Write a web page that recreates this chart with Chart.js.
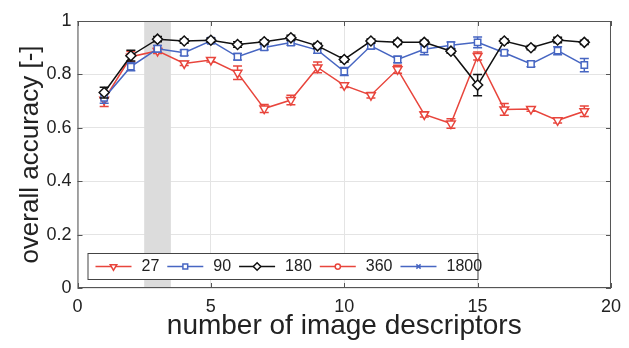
<!DOCTYPE html>
<html>
<head>
<meta charset="utf-8">
<script src="https://cdn.jsdelivr.net/npm/chart.js@4/dist/chart.umd.min.js"></script>
<style>
  html, body { margin: 0; padding: 0; background: #fff; }
  #wrap { width: 629px; height: 348px; }
</style>
</head>
<body>
<div id="wrap"><canvas id="chart" width="629" height="348"></canvas></div>
<script>
var descriptors = [1, 2, 3, 4, 5, 6, 7, 8, 9, 10, 11, 12, 13, 14, 15, 16, 17, 18, 19];
var acc27 = [0.705, 0.866, 0.888, 0.841, 0.854, 0.806, 0.672, 0.704, 0.826, 0.759, 0.722, 0.819, 0.650, 0.616, 0.869, 0.669, 0.670, 0.628, 0.662];
var err27 = [0.025, 0.02, 0.01, 0.008, 0.008, 0.025, 0.015, 0.018, 0.02, 0.008, 0.01, 0.015, 0.01, 0.018, 0.015, 0.022, 0.008, 0.01, 0.02];
var acc90 = [0.712, 0.829, 0.896, 0.881, 0.926, 0.866, 0.901, 0.919, 0.891, 0.811, 0.907, 0.856, 0.894, 0.909, 0.920, 0.881, 0.839, 0.889, 0.835];
var err90 = [0.02, 0.015, 0.012, 0.01, 0.008, 0.012, 0.01, 0.01, 0.012, 0.015, 0.012, 0.012, 0.02, 0.012, 0.02, 0.008, 0.01, 0.015, 0.025];
var acc180 = [0.732, 0.870, 0.932, 0.925, 0.928, 0.912, 0.922, 0.937, 0.907, 0.856, 0.925, 0.920, 0.920, 0.887, 0.760, 0.925, 0.900, 0.929, 0.920];
var err180 = [0.02, 0.02, 0.01, 0.008, 0.008, 0.01, 0.008, 0.01, 0.01, 0.01, 0.008, 0.008, 0.008, 0.008, 0.04, 0.008, 0.008, 0.01, 0.008];
var acc360 = [];
var acc1800 = [];
var seriesLabels = ['27', '90', '180', '360', '1800'];
var xTicks = [0, 5, 10, 15, 20];
var yTicks = [0, 0.2, 0.4, 0.6, 0.8, 1];
var band = [2.5, 3.5];

var RED = '#e8453c', BLUE = '#4766c2', BLACK = '#111111';
var FONT = '"Liberation Sans", Arial, Helvetica, sans-serif';

function pts(ys) {
  return ys.map(function (y, i) { return { x: descriptors[i], y: y }; });
}

function serie(label, ys, errs, color, style, rot, radius, order) {
  return {
    label: label,
    data: pts(ys),
    errorBars: errs,
    borderColor: color,
    borderWidth: 1.5,
    pointStyle: style,
    pointRotation: rot,
    pointRadius: radius,
    pointBorderWidth: 1.5,
    pointBorderColor: color,
    pointBackgroundColor: '#fff',
    tension: 0,
    order: order
  };
}

var dados = {
  datasets: [
    serie(seriesLabels[0], acc27, err27, RED, 'triangle', 180, 5, 3),
    serie(seriesLabels[1], acc90, err90, BLUE, 'rect', 0, 4.5, 2),
    serie(seriesLabels[2], acc180, err180, BLACK, 'rectRot', 0, 5, 1),
    serie(seriesLabels[3], acc360, [], RED, 'circle', 0, 3.5, 4),
    serie(seriesLabels[4], acc1800, [], BLUE, 'crossRot', 0, 4, 5)
  ]
};

var extras = {
  id: 'extras',
  beforeDatasetsDraw: function (chart) {
    var ctx = chart.ctx, a = chart.chartArea, x = chart.scales.x;
    var x1 = x.getPixelForValue(band[0]), x2 = x.getPixelForValue(band[1]);
    ctx.save();
    ctx.fillStyle = '#dcdcdc';
    ctx.fillRect(x1, a.top, x2 - x1, a.bottom - a.top);
    ctx.restore();
  },
  beforeDatasetDraw: function (chart, args) {
    var ds = chart.data.datasets[args.index];
    if (!ds.errorBars || !ds.errorBars.length) return;
    var ctx = chart.ctx, x = chart.scales.x, y = chart.scales.y;
    ctx.save();
    ctx.strokeStyle = ds.borderColor;
    ctx.lineWidth = 1.5;
    ds.data.forEach(function (p, i) {
      var e = ds.errorBars[i];
      var px = x.getPixelForValue(p.x);
      var top = y.getPixelForValue(p.y + e), bot = y.getPixelForValue(p.y - e);
      ctx.beginPath();
      ctx.moveTo(px, top); ctx.lineTo(px, bot);
      ctx.moveTo(px - 4.5, top); ctx.lineTo(px + 4.5, top);
      ctx.moveTo(px - 4.5, bot); ctx.lineTo(px + 4.5, bot);
      ctx.stroke();
    });
    ctx.restore();
  },
  afterDraw: function (chart) {
    var ctx = chart.ctx, a = chart.chartArea, x = chart.scales.x, y = chart.scales.y;
    ctx.save();
    // frame and inward ticks
    ctx.strokeStyle = '#555';
    ctx.lineWidth = 1;
    ctx.strokeRect(a.left + 0.5, a.top + 0.5, a.right - a.left - 1, a.bottom - a.top - 1);
    ctx.beginPath();
    xTicks.forEach(function (v) {
      var px = Math.round(x.getPixelForValue(v)) + 0.5;
      ctx.moveTo(px, a.bottom); ctx.lineTo(px, a.bottom - 5);
      ctx.moveTo(px, a.top); ctx.lineTo(px, a.top + 5);
    });
    yTicks.forEach(function (v) {
      var py = Math.round(y.getPixelForValue(v)) + 0.5;
      ctx.moveTo(a.left, py); ctx.lineTo(a.left + 5, py);
      ctx.moveTo(a.right, py); ctx.lineTo(a.right - 5, py);
    });
    ctx.stroke();

    // legend box inside the axes
    var bx = a.left + 10, bh = 26, by = a.bottom - 9 - bh, bw = 390;
    ctx.fillStyle = '#fff';
    ctx.fillRect(bx, by, bw, bh);
    ctx.strokeStyle = '#444';
    ctx.strokeRect(bx + 0.5, by + 0.5, bw, bh);
    ctx.font = '16px ' + FONT;
    ctx.textBaseline = 'middle';
    var cx = bx + 8, cy = by + bh / 2 + 0.5;
    chart.data.datasets.forEach(function (ds) {
      ctx.strokeStyle = ds.borderColor;
      ctx.lineWidth = 1.5;
      ctx.beginPath();
      ctx.moveTo(cx, cy); ctx.lineTo(cx + 36, cy);
      ctx.stroke();
      ctx.fillStyle = '#fff';
      Chart.helpers.drawPoint(ctx, {
        pointStyle: ds.pointStyle, rotation: ds.pointRotation,
        radius: ds.pointRadius * 0.75, borderWidth: 1.5
      }, cx + 18, cy);
      ctx.fillStyle = '#222';
      ctx.fillText(ds.label, cx + 46, cy);
      cx += 46 + ctx.measureText(ds.label).width + 8;
    });
    ctx.restore();
  }
};

var chart = new Chart(document.getElementById('chart'), {
  type: 'line',
  data: dados,
  options: {
    responsive: false,
    animation: false,
    layout: { padding: { top: 21, right: 11, left: 0, bottom: 0 } },
    plugins: { legend: { display: false }, tooltip: { enabled: false } },
    scales: {
      x: {
        type: 'linear', min: 0, max: 20,
        afterBuildTicks: function (s) { s.ticks = xTicks.map(function (v) { return { value: v }; }); },
        afterFit: function (s) { s.height = 60; },
        grid: { color: '#e4e4e4', drawTicks: false },
        border: { display: false },
        ticks: { color: '#222', padding: 8, font: { family: FONT, size: 18 }, maxRotation: 0 },
        title: { display: true, text: 'number of image descriptors', color: '#222', padding: { top: 0, bottom: 5 }, font: { family: FONT, size: 28 } }
      },
      y: {
        min: 0, max: 1,
        afterBuildTicks: function (s) { s.ticks = yTicks.map(function (v) { return { value: v }; }); },
        afterFit: function (s) { s.width = 77.5; },
        grid: { color: '#e4e4e4', drawTicks: false },
        border: { display: false },
        ticks: {
          color: '#222', padding: 6, font: { family: FONT, size: 18 },
          callback: function (v) { return String(Number(v.toFixed(1))); }
        },
        title: { display: true, text: 'overall accuracy [-]', color: '#222', padding: { top: 15, bottom: 0 }, font: { family: FONT, size: 26 } }
      }
    }
  },
  plugins: [extras]
});
</script>
</body>
</html>
